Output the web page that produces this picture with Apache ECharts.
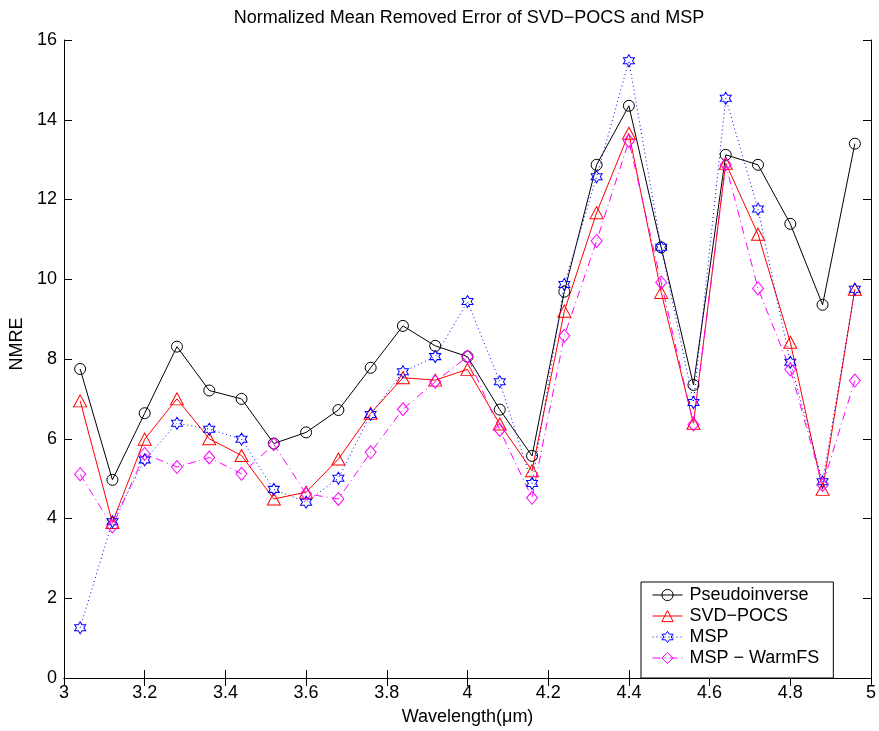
<!DOCTYPE html>
<html>
<head>
<meta charset="utf-8">
<title>NMRE</title>
<script src="https://cdn.jsdelivr.net/npm/echarts@6/dist/echarts.min.js"></script>
<style>
  html, body { margin: 0; padding: 0; background: #fff; }
  #chart { width: 879px; height: 731px; }
</style>
</head>
<body>
<div id="chart"></div>
<script>
// Wavelength samples (µm)
const wavelengths = [3.04, 3.12, 3.20, 3.28, 3.36, 3.44, 3.52, 3.60, 3.68, 3.76, 3.84, 3.92, 4.00,
                     4.08, 4.16, 4.24, 4.32, 4.40, 4.48, 4.56, 4.64, 4.72, 4.80, 4.88, 4.96];

// NMRE per method
const pseudoinverse = [7.75, 4.97, 6.64, 8.31, 7.21, 7.00, 5.88, 6.16, 6.72, 7.78, 8.83, 8.33, 8.06,
                       6.73, 5.57, 9.69, 12.87, 14.35, 10.80, 7.35, 13.12, 12.87, 11.39, 9.36, 13.40];
const svdPocs = [6.95, 3.90, 5.99, 7.00, 6.00, 5.58, 4.49, 4.66, 5.49, 6.64, 7.53, 7.47, 7.74,
                 6.37, 5.20, 9.20, 11.67, 13.66, 9.67, 6.39, 12.91, 11.13, 8.42, 4.73, 9.75];
const msp = [1.26, 3.92, 5.47, 6.39, 6.24, 5.99, 4.73, 4.41, 5.01, 6.61, 7.68, 8.06, 9.44,
             7.43, 4.88, 9.87, 12.57, 15.48, 10.80, 6.91, 14.54, 11.76, 7.92, 4.92, 9.75];
const mspWarmFS = [5.11, 3.80, 5.62, 5.29, 5.53, 5.12, 5.86, 4.62, 4.49, 5.66, 6.74, 7.43, 8.06,
                   6.22, 4.52, 8.58, 10.96, 13.47, 9.92, 6.36, 12.88, 9.77, 7.74, 4.84, 7.46];

const seriesNames = ['Pseudoinverse', 'SVD\u2212POCS', 'MSP', 'MSP \u2212 WarmFS'];
const chartTitle = 'Normalized Mean Removed Error of SVD\u2212POCS and MSP';
const xAxisTitle = 'Wavelength(\u03bcm)';
const yAxisTitle = 'NMRE';

const FONT = '"Liberation Sans", Arial, Helvetica, sans-serif';
const FS = 18;

// six-pointed star outline (hexagram)
const hexagram = 'path://M0,-10L2.887,-5L8.66,-5L5.774,0L8.66,5L2.887,5L0,10L-2.887,5L-8.66,5L-5.774,0L-8.66,-5L-2.887,-5Z';

const styles = [
  { color: '#000000', type: 'solid', symbol: 'circle', size: 11 },
  { color: '#ff0000', type: 'solid', symbol: 'triangle', size: [13, 12] },
  { color: '#0000ff', type: [1, 3], symbol: hexagram, size: [11, 12] },
  { color: '#ff00ff', type: [8, 4, 1, 4], symbol: 'diamond', size: [11, 13] }
];
const seriesValues = [pseudoinverse, svdPocs, msp, mspWarmFS];

function pairs(ys) {
  return wavelengths.map((x, i) => [x, ys[i]]);
}

function lineSeries(name, ys, st) {
  return {
    name: name,
    type: 'line',
    xAxisIndex: 0,
    yAxisIndex: 0,
    data: pairs(ys),
    symbol: st.symbol,
    symbolSize: st.size,
    showAllSymbol: true,
    animation: false,
    lineStyle: { color: st.color, width: 1, type: st.type },
    itemStyle: { color: 'rgba(255,255,255,0)', borderColor: st.color, borderWidth: 1 },
    emphasis: { disabled: true }
  };
}

const axisCommon = {
  type: 'value',
  axisLine: { show: true, lineStyle: { color: '#000', width: 1 } },
  axisTick: { show: true, inside: true, length: 8, lineStyle: { color: '#000', width: 1 } },
  splitLine: { show: false },
  axisLabel: { color: '#000', fontFamily: FONT, fontSize: FS }
};

const chart = echarts.init(document.getElementById('chart'), null, { renderer: 'canvas' });

chart.setOption({
  backgroundColor: '#fff',
  animation: false,
  grid: { left: 64, right: 6, top: 40, bottom: 53, containLabel: false },
  graphic: [
    {
      type: 'text',
      x: 469, y: 18,
      style: {
        text: chartTitle, fill: '#000', font: FS + 'px ' + FONT,
        textAlign: 'center', textVerticalAlign: 'middle'
      }
    }
  ],
  legend: {
    show: true,
    orient: 'vertical',
    left: 641, top: 582,
    padding: [4, 14, 11, 11],
    itemGap: 3,
    itemWidth: 30,
    itemHeight: 14,
    backgroundColor: '#fff',
    borderColor: '#000',
    borderWidth: 1,
    borderRadius: 0,
    textStyle: { color: '#000', fontFamily: FONT, fontSize: FS, lineHeight: 18, padding: [0, 0, 0, 2] },
    data: seriesNames.map((n, i) => ({
      name: n,
      itemStyle: { color: 'rgba(255,255,255,0)', borderColor: styles[i].color, borderWidth: 1 },
      lineStyle: { color: styles[i].color, width: 1, type: styles[i].type }
    }))
  },
  xAxis: [
    Object.assign({}, axisCommon, {
      position: 'bottom', min: 3, max: 5, interval: 0.2,
      name: xAxisTitle, nameLocation: 'middle', nameGap: 30,
      nameTextStyle: { color: '#000', fontFamily: FONT, fontSize: FS },
      axisLabel: Object.assign({}, axisCommon.axisLabel, { margin: 6 })
    }),
    Object.assign({}, axisCommon, {
      position: 'top', min: 3, max: 5, interval: 0.2,
      axisLabel: { show: false }
    })
  ],
  yAxis: [
    Object.assign({}, axisCommon, {
      position: 'left', min: 0, max: 16, interval: 2,
      name: yAxisTitle, nameLocation: 'middle', nameGap: 38,
      nameTextStyle: { color: '#000', fontFamily: FONT, fontSize: FS, padding: [0, 0, 0, 30] },
      axisLabel: Object.assign({}, axisCommon.axisLabel, { margin: 7 })
    }),
    Object.assign({}, axisCommon, {
      position: 'right', min: 0, max: 16, interval: 2,
      axisLabel: { show: false }
    })
  ],
  series: seriesNames.map((n, i) => lineSeries(n, seriesValues[i], styles[i]))
});
</script>
</body>
</html>
